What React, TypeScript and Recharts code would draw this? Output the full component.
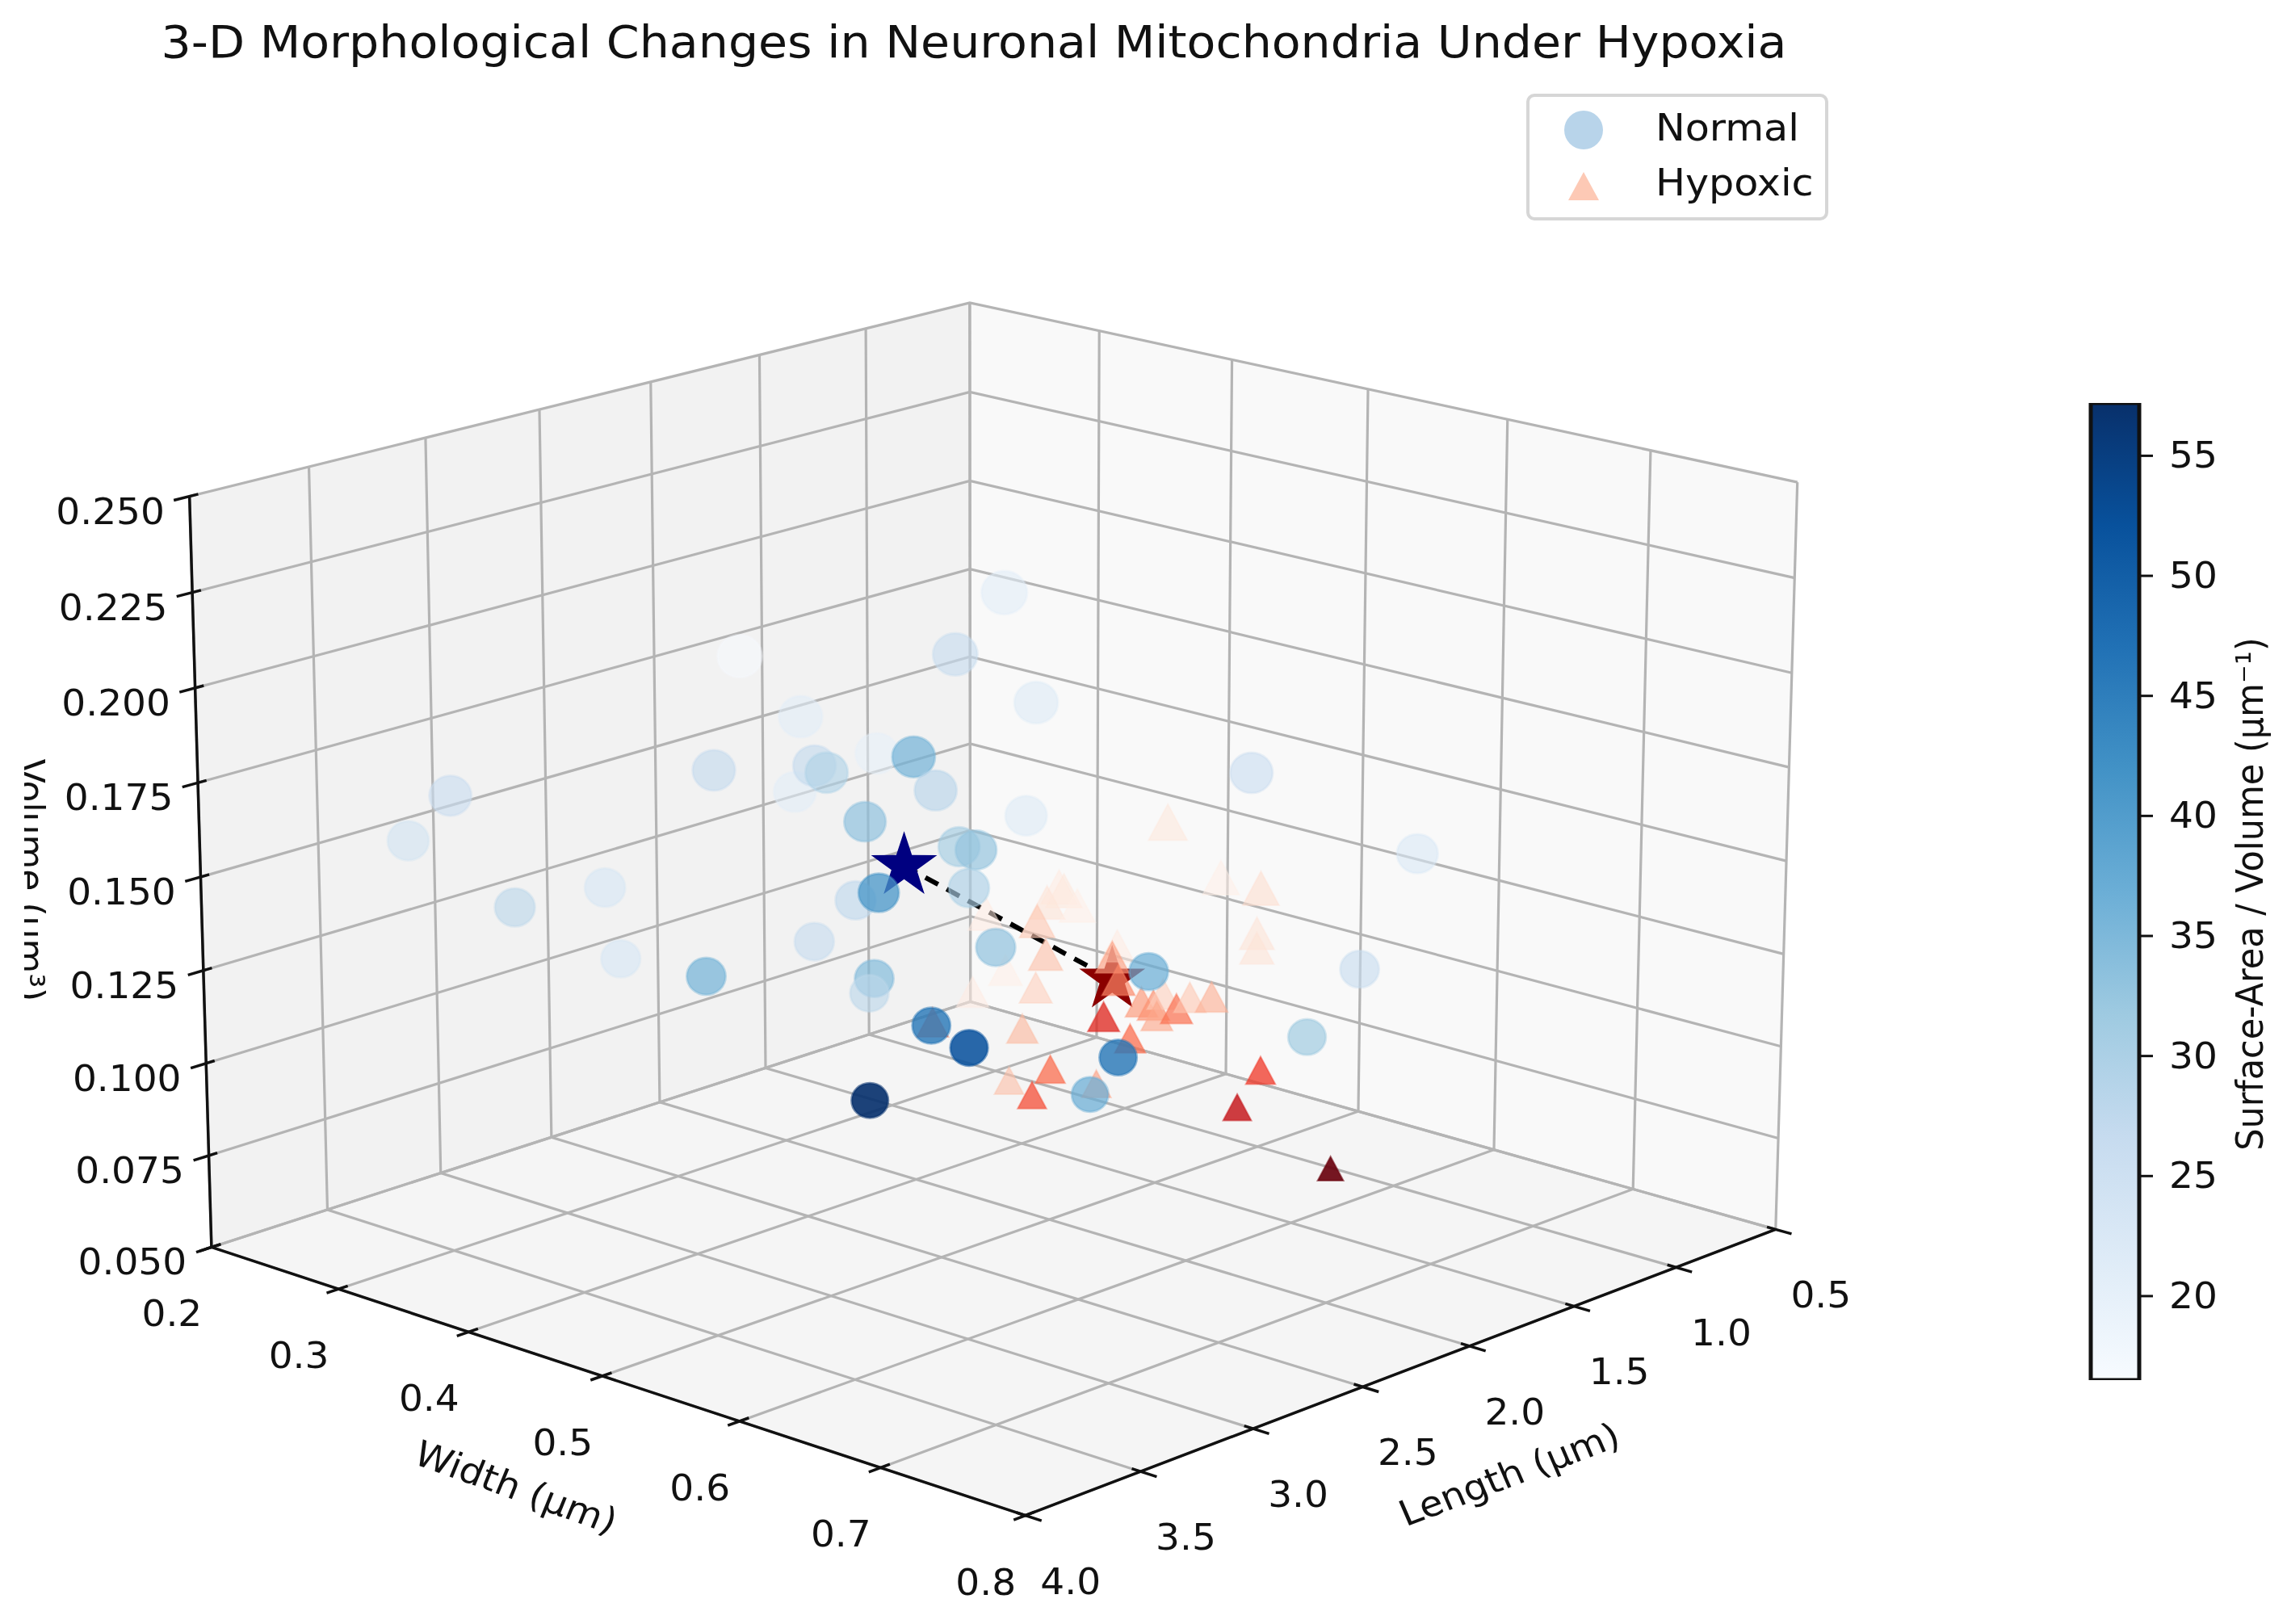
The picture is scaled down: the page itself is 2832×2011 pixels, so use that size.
import React from "react";
import { ScatterChart, Scatter, XAxis, YAxis, BarChart, Bar } from "recharts";

// values; one dot per index
const normalLength = [3.45,3.54,3.31,3.11,3.08,2.89,2.87,2.81,2.68,2.69,2.65,2.62,2.51,2.43,2.38,2.54,2.34,2.33,2.29,2.31,2.56,2.51,2.65,2.52,2.53,2.25,2.39,2.31,2.53,1.98,2.04,1.91,1.56,1.44,2.18,2.23,2.16,1.69,1.32];
const normalWidth = [0.295,0.278,0.318,0.352,0.358,0.39,0.394,0.404,0.427,0.424,0.432,0.436,0.455,0.469,0.477,0.451,0.485,0.486,0.492,0.49,0.447,0.456,0.431,0.454,0.452,0.5,0.475,0.49,0.452,0.547,0.536,0.558,0.619,0.638,0.511,0.503,0.515,0.597,0.66];
const normalVolume = [0.171,0.159,0.141,0.146,0.127,0.122,0.177,0.207,0.191,0.171,0.178,0.176,0.181,0.18,0.171,0.163,0.207,0.156,0.155,0.145,0.142,0.144,0.131,0.121,0.117,0.129,0.108,0.102,0.088,0.099,0.089,0.122,0.104,0.122,0.164,0.223,0.194,0.175,0.153];
const normalSav = [26,24.5,28,23.5,23.5,36,27,17,21,21,27,29.5,20,36,28.5,33.5,26.5,31,33,30,27.5,41,26.5,34.5,28,33.5,46,52,57,46,37,37,32,26.5,22,21,22,26,23];

const hypoxicLength = [1.87,1.75,1.66,1.67,1.67,2.11,2.14,2.1,2.07,2.16,2.27,2.14,2.23,2.16,2.3,1.98,1.99,1.98,2.01,1.93,1.9,1.88,1.89,1.85,1.82,1.77,2.19,1.95,2.13,2.22,2.17,2.03,2.39,1.66,1.71,1.5];
const hypoxicWidth = [0.565,0.585,0.6,0.599,0.599,0.524,0.52,0.526,0.531,0.516,0.496,0.519,0.504,0.515,0.491,0.546,0.544,0.547,0.541,0.556,0.56,0.564,0.561,0.569,0.574,0.582,0.51,0.551,0.521,0.505,0.514,0.539,0.476,0.601,0.592,0.628];
const hypoxicVolume = [0.162,0.147,0.144,0.132,0.128,0.145,0.141,0.144,0.14,0.136,0.138,0.127,0.123,0.118,0.117,0.129,0.126,0.12,0.11,0.114,0.113,0.116,0.11,0.112,0.115,0.115,0.107,0.104,0.096,0.093,0.089,0.092,0.109,0.095,0.085,0.068];
const hypoxicSav = [20,18,22,21,21,19,21,20,18,25,19,26,18,24,19,19,30,33,44,31,32,24,29,36,25,28,27,37,37,26,40,30,35,42,48,57];

const centroidLength = [2.45, 1.99];
const centroidWidth = [0.465, 0.544];
const centroidVolume = [0.151, 0.12];

const lengthTicks = [0.5, 1.0, 1.5, 2.0, 2.5, 3.0, 3.5, 4.0];
const widthTicks = [0.2, 0.3, 0.4, 0.5, 0.6, 0.7, 0.8];
const volumeTicks = [0.05, 0.075, 0.1, 0.125, 0.15, 0.175, 0.2, 0.225, 0.25];
const savTicks = [20, 25, 30, 35, 40, 45, 50, 55];
const blues = ["#f7fbff", "#deebf7", "#c6dbef", "#9ecae1", "#6baed6", "#4292c6", "#2171b5", "#08519c", "#08306b"];
const reds = ["#fff5f0", "#fee0d2", "#fcbba1", "#fc9272", "#fb6a4a", "#ef3b2c", "#cb181d", "#a50f15", "#67000d"];

const W = 2832, H = 2011;
const SAV_MIN = 16.5, SAV_MAX = 57.2;
const STRETCH = 1.069;

// 3-D camera, same maths as a matplotlib mplot3d view
const ELEV = (18 * Math.PI) / 180, AZIM = (43 * Math.PI) / 180;
const BOX_A = 1.1905, BOX_B = 0.8929;
const CX = 1233, CY = 1076, SX = 1167, SY = 1092;
const se = Math.sin(ELEV), ce = Math.cos(ELEV), sa = Math.sin(AZIM), ca = Math.cos(AZIM);
const L0 = 0.5, L1 = 4, W0 = 0.2, W1 = 0.8, V0 = 0.05, V1 = 0.25;

const project = (l: number, w: number, vol: number) => {
  const x = BOX_A * ((l - L0) / (L1 - L0) - 0.5);
  const y = BOX_A * ((w - W0) / (W1 - W0) - 0.5);
  const z = BOX_B * ((vol - V0) / (V1 - V0) - 0.5);
  const d = ce * ca * x + ce * sa * y + se * z;
  const f = 10 / (10 - d);
  return { u: (-sa * x + ca * y) * f, v: (-se * ca * x - se * sa * y + ce * z) * f };
};

const mix = (stops: string[], sav: number) => {
  const p = Math.min(1, Math.max(0, (sav - SAV_MIN) / (SAV_MAX - SAV_MIN))) * (stops.length - 1);
  const i = Math.min(stops.length - 2, Math.floor(p));
  const c = (s: string, j: number) => parseInt(s.slice(1 + j * 2, 3 + j * 2), 16);
  const ch = [0, 1, 2].map((j) => Math.round(c(stops[i], j) + (c(stops[i + 1], j) - c(stops[i], j)) * (p - i)));
  return `rgb(${ch.join(",")})`;
};
// pale dots let the grid through, dark ones nearly hide it
const alpha = (sav: number) => 0.52 + (0.4 * (sav - SAV_MIN)) / (SAV_MAX - SAV_MIN);

const normalData = normalLength.map((l, i) => ({ ...project(l, normalWidth[i], normalVolume[i]), volume: normalVolume[i], sav: normalSav[i] }));
const hypoxicData = hypoxicLength.map((l, i) => ({ ...project(l, hypoxicWidth[i], hypoxicVolume[i]), volume: hypoxicVolume[i], sav: hypoxicSav[i] }));
const centroidData = centroidLength.map((l, i) => project(l, centroidWidth[i], centroidVolume[i]));

const Txt = ({ x, y, rotate = 0, size = 44, anchor = "middle", children }: any) => (
  <text
    transform={`translate(${x} ${y}) scale(${STRETCH} 1) rotate(${rotate})`}
    textAnchor={anchor}
    dominantBaseline="central"
    fontFamily="DejaVu Sans"
    fontSize={size}
    fill="#111"
  >
    {children}
  </text>
);

const noDot = () => <g />;
const path3 = (pts: number[][]) => pts.map((p) => project(p[0], p[1], p[2]));
const fillPane = (color: string) => (p: any) => (
  <path d={"M" + p.points.map((q: any) => `${q.x},${q.y}`).join("L") + "Z"} fill={color} stroke="none" />
);
const GRID = { stroke: "#b4b4b4", strokeWidth: 3.2 };
const AXIS = { stroke: "#111", strokeWidth: 3.5 };

const gridLines = [
  ...lengthTicks.map((l) => path3([[l, W1, V0], [l, W0, V0], [l, W0, V1]])),
  ...widthTicks.map((w) => path3([[L1, w, V0], [L0, w, V0], [L0, w, V1]])),
  ...volumeTicks.map((v) => path3([[L1, W0, v], [L0, W0, v], [L0, W1, v]])),
];
const axisLines = [
  path3([[L1, W0, V0], [L1, W0, V1]]),
  path3([[L1, W0, V0], [L1, W1, V0]]),
  path3([[L0, W1, V0], [L1, W1, V0]]),
  ...volumeTicks.map((v) => path3([[L1 + 0.065, W0, v], [L1 - 0.036, W0, v]])),
  ...widthTicks.map((w) => path3([[L1 + 0.05, w, V0], [L1 - 0.04, w, V0]])),
  ...lengthTicks.map((l) => path3([[l, W1 + 0.011, V0], [l, W1 - 0.006, V0]])),
];

const tickLabel = (dx: number, dy: number) => (p: any) => (
  <Txt x={p.cx + dx} y={p.cy + dy}>{p.payload.label}</Txt>
);

const radiusNormal = (v: number) => 20 + 40 * (v - 0.05);
const radiusHypoxic = (v: number) => 13.5 + 80 * (v - 0.05);

const Circle = (p: any) => {
  const r = radiusNormal(p.payload.volume);
  const c = mix(blues, p.payload.sav);
  const a = alpha(p.payload.sav);
  return <ellipse cx={p.cx} cy={p.cy} rx={r * 1.05} ry={r} fill={c} fillOpacity={a} stroke={c} strokeOpacity={a * 0.6} strokeWidth={3} />;
};
const Triangle = (p: any) => {
  const r = radiusHypoxic(p.payload.volume);
  const c = mix(reds, p.payload.sav);
  const a = alpha(p.payload.sav);
  const d = `M${p.cx},${p.cy - r}L${p.cx + r * 1.07},${p.cy + r}L${p.cx - r * 1.07},${p.cy + r}Z`;
  return <path d={d} fill={c} fillOpacity={a} stroke={c} strokeOpacity={a * 0.6} strokeWidth={2} />;
};
const star = (color: string) => (p: any) => {
  const pts: string[] = [];
  for (let i = 0; i < 10; i++) {
    const r = i % 2 ? 16.5 : 43;
    const t = (i * Math.PI) / 5;
    pts.push(`${p.cx + r * Math.sin(t)},${p.cy - r * Math.cos(t)}`);
  }
  return <polygon points={pts.join(" ")} fill={color} />;
};

export default function App() {
  return (
    <div style={{ position: "absolute", left: 0, top: 0, width: W, height: H, background: "#fff", filter: "blur(0.7px)" }}>
      <ScatterChart width={W} height={H} margin={{ top: 0, right: 0, bottom: 0, left: 0 }}>
        <XAxis type="number" dataKey="u" domain={[(0 - CX) / SX, (W - CX) / SX]} hide allowDataOverflow />
        <YAxis type="number" dataKey="v" domain={[(CY - H) / SY, CY / SY]} hide allowDataOverflow />

        <Scatter data={path3([[L1, W0, V0], [L0, W0, V0], [L0, W0, V1], [L1, W0, V1]])} shape={noDot} line={fillPane("#f2f2f2")} isAnimationActive={false} />
        <Scatter data={path3([[L0, W0, V0], [L0, W1, V0], [L0, W1, V1], [L0, W0, V1]])} shape={noDot} line={fillPane("#f9f9f9")} isAnimationActive={false} />
        <Scatter data={path3([[L1, W0, V0], [L1, W1, V0], [L0, W1, V0], [L0, W0, V0]])} shape={noDot} line={fillPane("#f5f5f5")} isAnimationActive={false} />

        {gridLines.map((d, i) => (
          <Scatter key={"g" + i} data={d} shape={noDot} line={GRID} isAnimationActive={false} />
        ))}
        {axisLines.map((d, i) => (
          <Scatter key={"a" + i} data={d} shape={noDot} line={AXIS} isAnimationActive={false} />
        ))}

        <Scatter data={volumeTicks.map((v) => ({ ...project(L1, W0, v), label: v.toFixed(3) }))} shape={tickLabel(-98, 19)} isAnimationActive={false} />
        <Scatter data={widthTicks.map((w) => ({ ...project(L1, w, V0), label: w.toFixed(1) }))} shape={tickLabel(-49, 83)} isAnimationActive={false} />
        <Scatter data={lengthTicks.map((l) => ({ ...project(l, W1, V0), label: l.toFixed(1) }))} shape={tickLabel(56, 82)} isAnimationActive={false} />

        <Scatter data={centroidData} shape={noDot} line={{ stroke: "#000", strokeWidth: 6, strokeDasharray: "18 12" }} isAnimationActive={false} />
        <Scatter data={[centroidData[0]]} shape={star("#000080")} isAnimationActive={false} />
        <Scatter data={[centroidData[1]]} shape={star("#8b0000")} isAnimationActive={false} />
        <Scatter data={hypoxicData} shape={Triangle} isAnimationActive={false} />
        <Scatter data={normalData} shape={Circle} isAnimationActive={false} />

        <Txt x={1206} y={52} size={54.8}>3-D Morphological Changes in Neuronal Mitochondria Under Hypoxia</Txt>
        <Txt x={639} y={1842} rotate={21}>Width (μm)</Txt>
        <Txt x={1869} y={1826} rotate={-22}>Length (μm)</Txt>
        <clipPath id="volClip"><rect x={30} y={900} width={60} height={400} /></clipPath>
        <g clipPath="url(#volClip)">
          <text transform={`translate(22 1090) scale(${STRETCH} 1) rotate(90)`} textAnchor="middle" fontFamily="DejaVu Sans" fontSize={44} fill="#111">Volume (μm³)</text>
        </g>

        <rect x={1892} y={118} width={370} height={153} rx={8} fill="#fff" stroke="#d6d6d6" strokeWidth={4} />
        <circle cx={1961} cy={161} r={24} fill="#b8d4ea" />
        <path d="M1961,213L1980,248L1942,248Z" fill="#fdc9b5" />
        <Txt x={2050} y={158} anchor="start" size={46}>Normal</Txt>
        <Txt x={2050} y={226} anchor="start" size={46}>Hypoxic</Txt>
      </ScatterChart>

      <div style={{ position: "absolute", left: 2585, top: 495 }}>
        <BarChart width={247} height={1218} data={[{ name: "sav", range: [SAV_MIN, SAV_MAX] }]} margin={{ top: 4, right: 0, bottom: 4, left: 4 }} barCategoryGap={0}>
          <defs>
            <linearGradient id="bluesBar" x1="0" y1="1" x2="0" y2="0">
              {blues.map((c, i) => (
                <stop key={c} offset={i / (blues.length - 1)} stopColor={c} />
              ))}
            </linearGradient>
          </defs>
          <XAxis dataKey="name" hide />
          <YAxis
            orientation="right"
            width={183}
            type="number"
            domain={[SAV_MIN, SAV_MAX]}
            ticks={savTicks}
            allowDataOverflow
            axisLine={false}
            tickSize={17}
            tickLine={{ stroke: "#111", strokeWidth: 3 }}
            tick={(p: any) => (
              <Txt x={p.x + 18} y={p.y} anchor="start" size={44}>{p.payload.value}</Txt>
            )}
          />
          <Bar dataKey="range" fill="url(#bluesBar)" stroke="#111" strokeWidth={5} isAnimationActive={false} />
          <text transform={`translate(201 612) scale(${STRETCH} 1) rotate(-90)`} textAnchor="middle" dominantBaseline="central" fontFamily="DejaVu Sans" fontSize={43} fill="#111">Surface-Area / Volume (μm⁻¹)</text>
        </BarChart>
      </div>
    </div>
  );
}
